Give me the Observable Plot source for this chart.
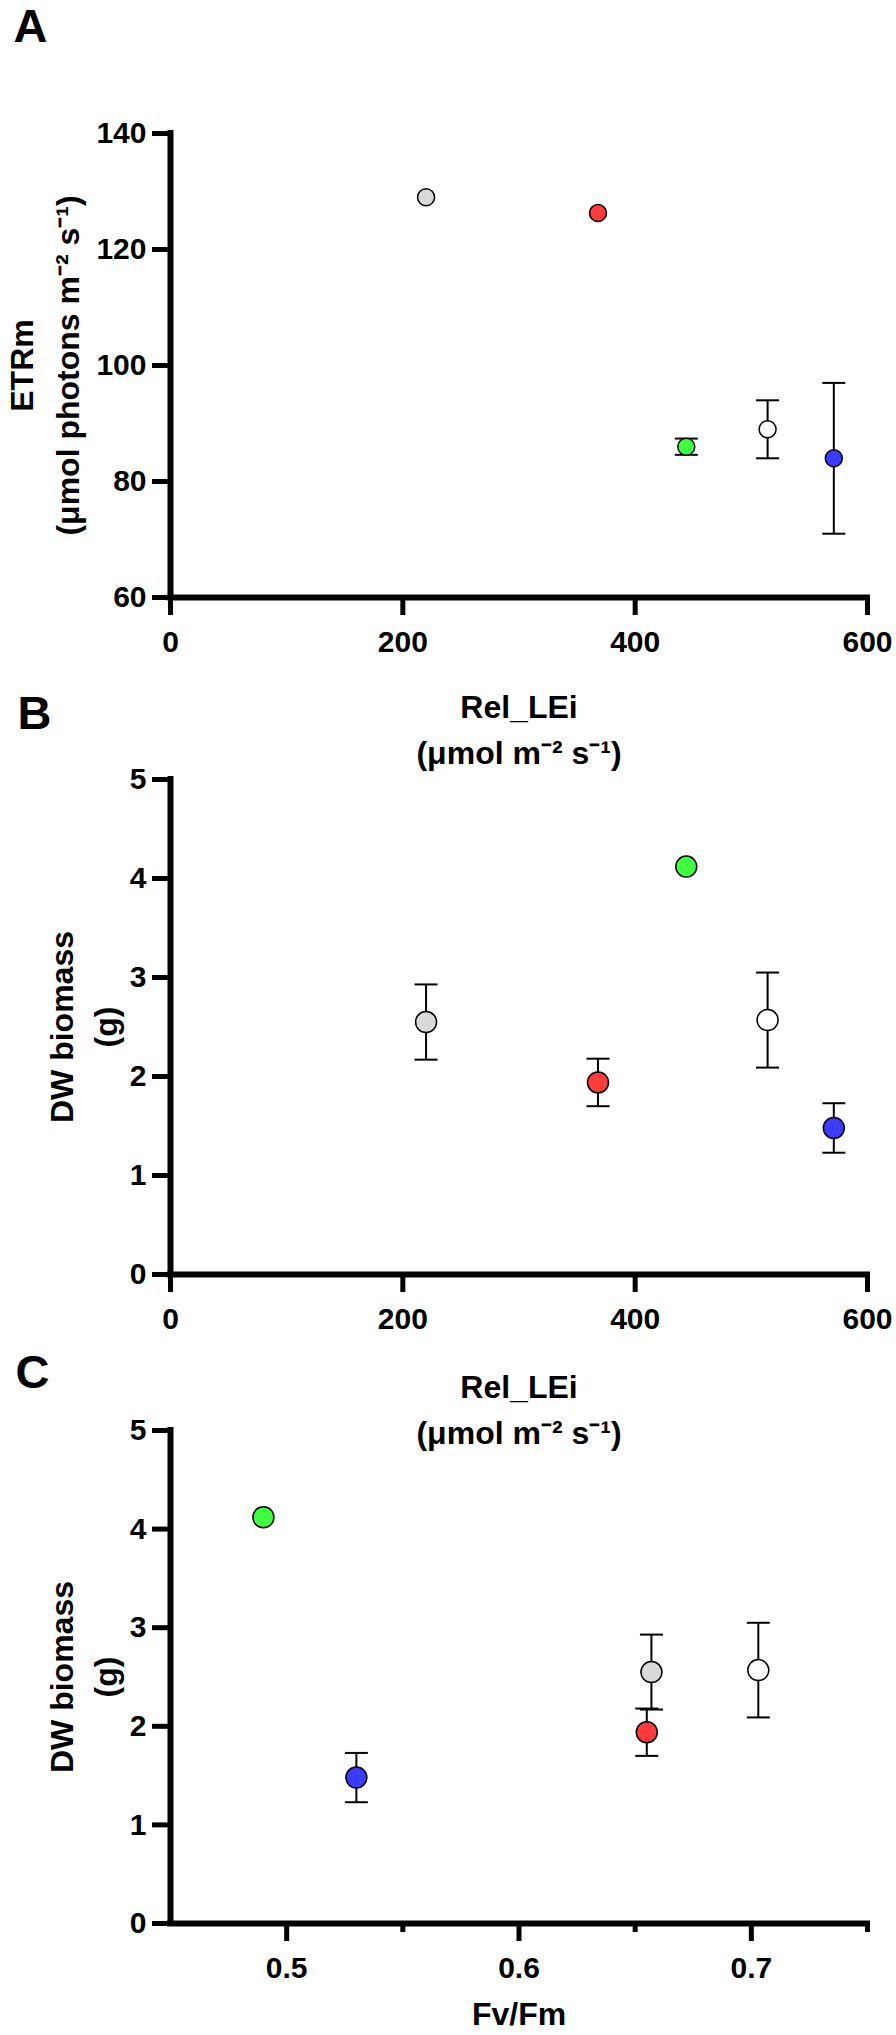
<!DOCTYPE html>
<html><head><meta charset="utf-8">
<script src="https://cdn.jsdelivr.net/npm/d3@7"></script>
<script src="https://cdn.jsdelivr.net/npm/@observablehq/plot@0.6"></script>
<style>
body{margin:0;background:#fff;}
#wrap{position:relative;width:896px;height:2035px;overflow:hidden;background:#fff;}
#wrap > svg{position:absolute;left:0;}
</style></head><body><div id="wrap"></div>
<script>
// Groups (order: gray, red, green, white, blue)
const groups = ["gray", "red", "green", "white", "blue"];
const fills = ["#d9d9d9", "#ff3b3b", "#3dff3d", "#ffffff", "#3b3bff"];
// Rel_LEi (µmol m-2 s-1)
const relLEi = [220, 368, 444, 514, 571];
// ETRm (µmol photons m-2 s-1) and SD (null = bar hidden behind the symbol)
const etrm = [129.0, 126.3, 86.0, 89.0, 84.0];
const etrmSD = [null, null, 1.4, 5.0, 13.0];
// DW biomass (g) and SD
const dw = [2.55, 1.94, 4.12, 2.57, 1.48];
const dwSD = [0.38, 0.24, null, 0.48, 0.25];
// Fv/Fm
const fvfm = [0.657, 0.655, 0.490, 0.703, 0.530];

// tick values
const ticksRel = [0, 200, 400, 600];
const ticksETR = [60, 80, 100, 120, 140];
const ticksDW = [0, 1, 2, 3, 4, 5];
const ticksFv = [0.5, 0.6, 0.7];
const ticksFvMinor = [0.55, 0.65, 0.75];

const FONT = "'Liberation Sans', Arial, Helvetica, sans-serif";
const capSymbol = {draw(ctx, size) { const w = Math.sqrt(size / Math.PI); ctx.moveTo(-w, 0); ctx.lineTo(w, 0); }};

function panel(p) {
  const ML = 170, MR = 29;
  const data = groups.map((g, i) => ({g, fill: fills[i], x: p.xs[i], y: p.ys[i], sd: p.sds[i],
    lo: p.sds[i] == null ? null : p.ys[i] - p.sds[i], hi: p.sds[i] == null ? null : p.ys[i] + p.sds[i]}));
  const bars = data.filter(d => d.sd != null);
  const marks = [
    Plot.ruleX([p.xDomain[0]], {strokeWidth: 6, strokeLinecap: "square"}),
    Plot.ruleY([p.yDomain[0]], {strokeWidth: 6, strokeLinecap: "square"}),
    Plot.axisY(p.yTicks, {anchor: "left", tickSize: 18, tickPadding: 6, strokeWidth: 5, fontSize: 30, fontWeight: "bold", label: null, tickFormat: d => String(d)}),
    Plot.axisX(p.xTicks, {anchor: "bottom", tickSize: 18, tickPadding: 15, strokeWidth: 5, fontSize: 30, fontWeight: "bold", label: null, tickFormat: d => String(d)})
  ];
  if (p.xMinor) marks.push(Plot.axisX(p.xMinor, {anchor: "bottom", tickSize: 9, strokeWidth: 5, label: null, tickFormat: () => ""}));
  marks.push(
    Plot.ruleX(bars, {x: "x", y1: "lo", y2: "hi", stroke: "black", strokeWidth: 2}),
    Plot.dot(bars, {x: "x", y: "lo", symbol: capSymbol, r: 11.5, stroke: "black", strokeWidth: 2, fill: "none"}),
    Plot.dot(bars, {x: "x", y: "hi", symbol: capSymbol, r: 11.5, stroke: "black", strokeWidth: 2, fill: "none"}),
    Plot.dot(data, {x: "x", y: "y", r: p.r, fill: "fill", stroke: "black", strokeWidth: 1.5}),
    Plot.text([p.letter], {text: d => d, frameAnchor: "top-left", dx: p.letterX - ML, dy: p.letterY - p.mt, textAnchor: "start", lineAnchor: "middle", fontSize: 47, fontWeight: "bold"}),
    Plot.text([p.ytitle], {text: d => d, frameAnchor: "left", dx: p.ytitleX - ML, rotate: -90, textAnchor: "middle", lineAnchor: "middle", fontSize: 32, fontWeight: "bold", lineHeight: p.ylh / 32}),
    Plot.text([p.xtitle], {text: d => d, frameAnchor: "bottom", dy: p.xtitleDy, textAnchor: "middle", lineAnchor: "middle", fontSize: 32, fontWeight: "bold", lineHeight: 46 / 32})
  );
  const chart = Plot.plot({
    width: 896, height: p.height,
    marginLeft: ML, marginRight: MR, marginTop: p.mt, marginBottom: p.mb,
    style: {background: "transparent", fontFamily: FONT, color: "black", overflow: "visible"},
    x: {domain: p.xDomain},
    y: {domain: p.yDomain},
    marks
  });
  chart.style.position = "absolute";
  chart.style.top = p.top + "px";
  chart.style.left = "0px";
  document.getElementById("wrap").appendChild(chart);
}

panel({top: 0, height: 775, mt: 133, mb: 178, xDomain: [0, 600], yDomain: [60, 140], xTicks: ticksRel, yTicks: ticksETR,
  xs: relLEi, ys: etrm, sds: etrmSD, r: 8.5, letter: "A", letterX: 13, letterY: 26,
  ytitle: "ETRm\n(\u03bcmol photons m\u207b\u00b2 s\u207b\u00b9)", ytitleX: 41, ylh: 46,
  xtitle: "Rel_LEi\n(\u03bcmol m\u207b\u00b2 s\u207b\u00b9)", xtitleDy: 129});

panel({top: 680, height: 775, mt: 99, mb: 181, xDomain: [0, 600], yDomain: [0, 5], xTicks: ticksRel, yTicks: ticksDW,
  xs: relLEi, ys: dw, sds: dwSD, r: 10.5, letter: "B", letterX: 17, letterY: 33.5,
  ytitle: "DW biomass\n(g)", ytitleX: 80.5, ylh: 44,
  xtitle: "Rel_LEi\n(\u03bcmol m\u207b\u00b2 s\u207b\u00b9)", xtitleDy: 131.5});

panel({top: 1340, height: 695, mt: 90, mb: 112, xDomain: [0.45, 0.75], yDomain: [0, 5], xTicks: ticksFv, xMinor: ticksFvMinor, yTicks: ticksDW,
  xs: fvfm, ys: dw, sds: dwSD, r: 10.5, letter: "C", letterX: 15, letterY: 32,
  ytitle: "DW biomass\n(g)", ytitleX: 80.5, ylh: 44,
  xtitle: "Fv/Fm", xtitleDy: 87});
</script>
</body></html>
